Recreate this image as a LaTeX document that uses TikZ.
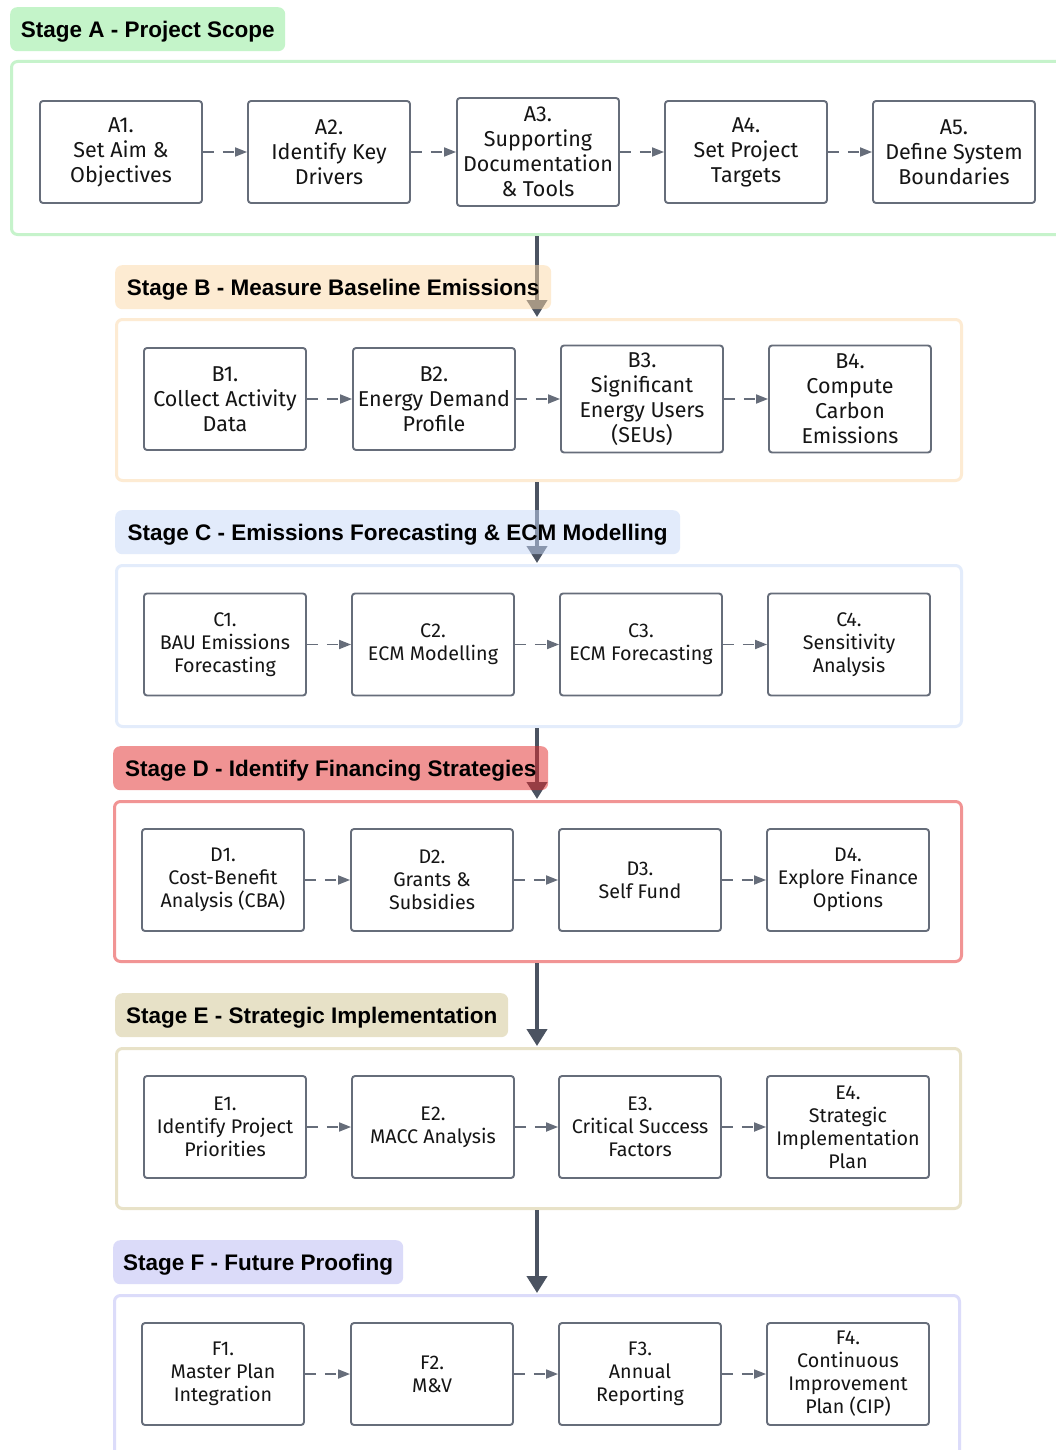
\documentclass[tikz,border=0pt]{standalone}
\usepackage{fontspec}
\setsansfont{Liberation Sans}
\newfontfamily\boxfont{Fira Sans}
\usetikzlibrary{arrows.meta}

% stage colours
\definecolor{stageAfill}{HTML}{8BEB95}
\definecolor{stageAline}{HTML}{C6F3CB}
\definecolor{stageBfill}{HTML}{FDD9A7}
\definecolor{stageBline}{HTML}{FDEBD3}
\definecolor{stageCfill}{HTML}{C7D9F9}
\definecolor{stageCline}{HTML}{E3ECFB}
\definecolor{stageDfill}{HTML}{E32929}
\definecolor{stageDline}{HTML}{F19494}
\definecolor{stageEfill}{HTML}{D1C591}
\definecolor{stageEline}{HTML}{E8E2C8}
\definecolor{stageFfill}{HTML}{B9B9F5}
\definecolor{stageFline}{HTML}{DCDCFA}
\definecolor{boxgray}{HTML}{666D7A}
\definecolor{flowgray}{HTML}{4B5361}
\definecolor{inktext}{HTML}{151515}

\tikzset{
  stagebox/.style={draw=#1, line width=3pt, rounded corners=6pt, fill=white},
  stagelabel/.style={fill=#1, fill opacity=0.5, text opacity=1, rounded corners=7pt,
    anchor=north west, minimum height=44pt, inner sep=0pt, text depth=0pt,
    font=\sffamily\bfseries\fontsize{22.5}{26}\selectfont, text=black},
  stepbox/.style={draw=boxgray, line width=1.9pt, rounded corners=3pt, fill=white,
    minimum width=162pt, minimum height=102pt, inner sep=0pt, align=center, text=inktext},
  bigtxt/.style={font=\boxfont\fontsize{21.5}{25}\selectfont},
  smalltxt/.style={font=\boxfont\fontsize{19.7}{23}\selectfont},
  dasharrow/.style={draw=boxgray, line width=1.8pt, dash pattern=on 11pt off 9pt,
    -{Triangle[length=12pt,width=9pt]}},
  flowarrow/.style={draw=flowgray, line width=4pt,
    -{Triangle[length=17pt,width=20pt]}, shorten >=1pt},
}

\begin{document}
\begin{tikzpicture}[x=1pt,y=-1pt]
\clip (0,0) rectangle (1056,1450);
\fill[white] (0,0) rectangle (1056,1450);

% stage containers
\node[stagebox=stageAline, minimum width=1060pt, minimum height=173pt, anchor=north west] (contA) at (10,60) {};
\node[stagebox=stageBline, minimum width=845pt, minimum height=161pt, anchor=north west] (contB) at (115,318) {};
\node[stagebox=stageCline, minimum width=845pt, minimum height=161pt, anchor=north west] (contC) at (115,564) {};
\node[stagebox=stageDline, minimum width=847pt, minimum height=160pt, anchor=north west] (contD) at (113,800) {};
\node[stagebox=stageEline, minimum width=844pt, minimum height=160pt, anchor=north west] (contE) at (115,1047) {};
\node[stagebox=stageFline, minimum width=845pt, minimum height=180pt, anchor=north west] (contF) at (113,1294) {};

% flow between stages
\coordinate (axis) at (537,0);
\draw[flowarrow] (contA.south -| axis) -- (contB.north -| axis);
\draw[flowarrow] (contB.south -| axis) -- (contC.north -| axis);
\draw[flowarrow] (contC.south -| axis) -- (contD.north -| axis);
\draw[flowarrow] (contD.south -| axis) -- (contE.north -| axis);
\draw[flowarrow] (contE.south -| axis) -- (contF.north -| axis);

% stage titles
\node[stagelabel=stageAfill, minimum width=275pt] (labA) at (10,7) {Stage A - Project Scope};
\node[stagelabel=stageBfill, minimum width=436pt] (labB) at (115,265) {Stage B - Measure Baseline Emissions};
\node[stagelabel=stageCfill, minimum width=565pt] (labC) at (115,510) {Stage C - Emissions Forecasting \& ECM Modelling};
\node[stagelabel=stageDfill, minimum width=435pt] (labD) at (113,746) {Stage D - Identify Financing Strategies};
\node[stagelabel=stageEfill, minimum width=393pt] (labE) at (115,993) {Stage E - Strategic Implementation};
\node[stagelabel=stageFfill, minimum width=290pt] (labF) at (113,1240) {Stage F - Future Proofing};

% Stage A steps
\node[stepbox, bigtxt] (a1) at (121,152) {A1.\\Set Aim \&\\Objectives};
\node[stepbox, bigtxt] (a2) at (329,152) {A2.\\Identify Key\\Drivers};
\node[stepbox, bigtxt, minimum height=108pt] (a3) at (538,152) {A3.\\Supporting\\Documentation\\\& Tools};
\node[stepbox, bigtxt] (a4) at (746,152) {A4.\\Set Project\\Targets};
\node[stepbox, bigtxt] (a5) at (954,152) {A5.\\Define System\\Boundaries};

% Stage B steps
\node[stepbox, bigtxt] (b1) at (225,399) {B1.\\Collect Activity\\Data};
\node[stepbox, bigtxt] (b2) at (434,399) {B2.\\Energy Demand\\Profile};
\node[stepbox, bigtxt, minimum height=107pt] (b3) at (642,399) {B3.\\Significant\\Energy Users\\(SEUs)};
\node[stepbox, bigtxt, minimum height=107pt] (b4) at (850,399) {B4.\\Compute\\Carbon\\Emissions};

% Stage C steps
\node[stepbox, smalltxt] (c1) at (225,644.5) {C1.\\BAU Emissions\\Forecasting};
\node[stepbox, smalltxt] (c2) at (433,644.5) {C2.\\ECM Modelling};
\node[stepbox, smalltxt] (c3) at (641,644.5) {C3.\\ECM Forecasting};
\node[stepbox, smalltxt] (c4) at (849,644.5) {C4.\\Sensitivity\\Analysis};

% Stage D steps
\node[stepbox, smalltxt] (d1) at (223,880) {D1.\\Cost-Benefit\\Analysis (CBA)};
\node[stepbox, smalltxt] (d2) at (432,880) {D2.\\Grants \&\\Subsidies};
\node[stepbox, smalltxt] (d3) at (640,880) {D3.\\Self Fund};
\node[stepbox, smalltxt] (d4) at (848,880) {D4.\\Explore Finance\\Options};

% Stage E steps
\node[stepbox, smalltxt] (e1) at (225,1127) {E1.\\Identify Project\\Priorities};
\node[stepbox, smalltxt] (e2) at (433,1127) {E2.\\MACC Analysis};
\node[stepbox, smalltxt] (e3) at (640,1127) {E3.\\Critical Success\\Factors};
\node[stepbox, smalltxt] (e4) at (848,1127) {E4.\\Strategic\\Implementation\\Plan};

% Stage F steps
\node[stepbox, smalltxt] (f1) at (223,1374) {F1.\\Master Plan\\Integration};
\node[stepbox, smalltxt] (f2) at (432,1374) {F2.\\M\&V};
\node[stepbox, smalltxt] (f3) at (640,1374) {F3.\\Annual\\Reporting};
\node[stepbox, smalltxt] (f4) at (848,1374) {F4.\\Continuous\\Improvement\\Plan (CIP)};

% links inside each stage
\foreach \s/\t in {a1/a2,a2/a3,a3/a4,a4/a5,
                   b1/b2,b2/b3,b3/b4,
                   c1/c2,c2/c3,c3/c4,
                   d1/d2,d2/d3,d3/d4,
                   e1/e2,e2/e3,e3/e4,
                   f1/f2,f2/f3,f3/f4}
  \draw[dasharrow] (\s) -- (\t);
\end{tikzpicture}
\end{document}
